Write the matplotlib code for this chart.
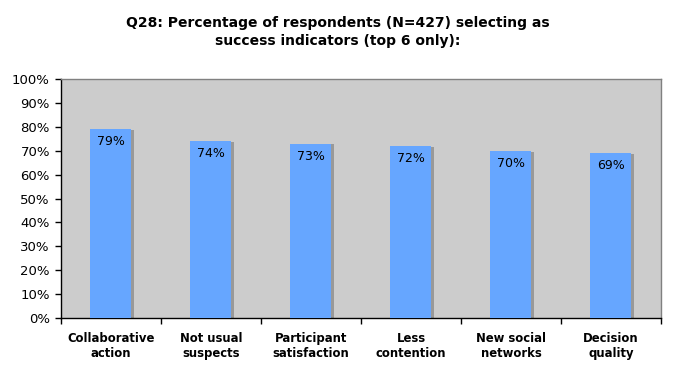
import matplotlib
matplotlib.use("Agg")
import matplotlib.pyplot as plt
from matplotlib.ticker import MultipleLocator, FuncFormatter

categories = ["Collaborative\naction", "Not usual\nsuspects", "Participant\nsatisfaction",
              "Less\ncontention", "New social\nnetworks", "Decision\nquality"]
values = [79, 74, 73, 72, 70, 69]
title = "Q28: Percentage of respondents (N=427) selecting as\nsuccess indicators (top 6 only):"

plt.rcParams['font.family'] = ['DejaVu Sans']

fig = plt.figure(figsize=(6.75, 3.75), dpi=100)
ax = fig.add_axes([61/675, 1-318/375, 600/675, (318-79)/375])
ax.set_facecolor("#cccccc")

x = list(range(len(categories)))
# shadow
ax.bar([i + 0.025 for i in x], [v - 0.4 for v in values], width=0.41, bottom=0,
       color="#999999", zorder=2)
bars = ax.bar(x, values, width=0.41, color="#66a6ff", zorder=3)
for i, v in zip(x, values):
    ax.text(i, v - 2.6, f"{v}%", ha="center", va="top", fontsize=9, zorder=4)

ax.set_xlim(-0.5, len(categories) - 0.5)
ax.set_ylim(0, 100)
ax.yaxis.set_major_locator(MultipleLocator(10))
ax.yaxis.set_major_formatter(FuncFormatter(lambda v, p: f"{int(v)}%"))
ax.set_xticks([i - 0.5 for i in range(len(categories) + 1)])
ax.set_xticklabels([])
ax.set_xticks(x, minor=True)
ax.set_xticklabels(categories, minor=True, fontweight="bold", fontsize=8.4,
                   linespacing=1.25)
ax.tick_params(axis="x", which="minor", length=0, pad=10)
ax.tick_params(axis="x", which="major", length=4, direction="out", width=1)
ax.tick_params(axis="y", length=4, width=1, labelsize=9.5, pad=4)
for s in ["top", "right"]:
    ax.spines[s].set_color("#808080")
    ax.spines[s].set_linewidth(1)
for s in ["left", "bottom"]:
    ax.spines[s].set_color("black")
    ax.spines[s].set_linewidth(1)

fig.text(338/675, 1 - 32/375, title, ha="center", va="center",
         fontsize=10, fontweight="bold", linespacing=1.35)

fig.savefig("out.png", dpi=100, facecolor="white")
